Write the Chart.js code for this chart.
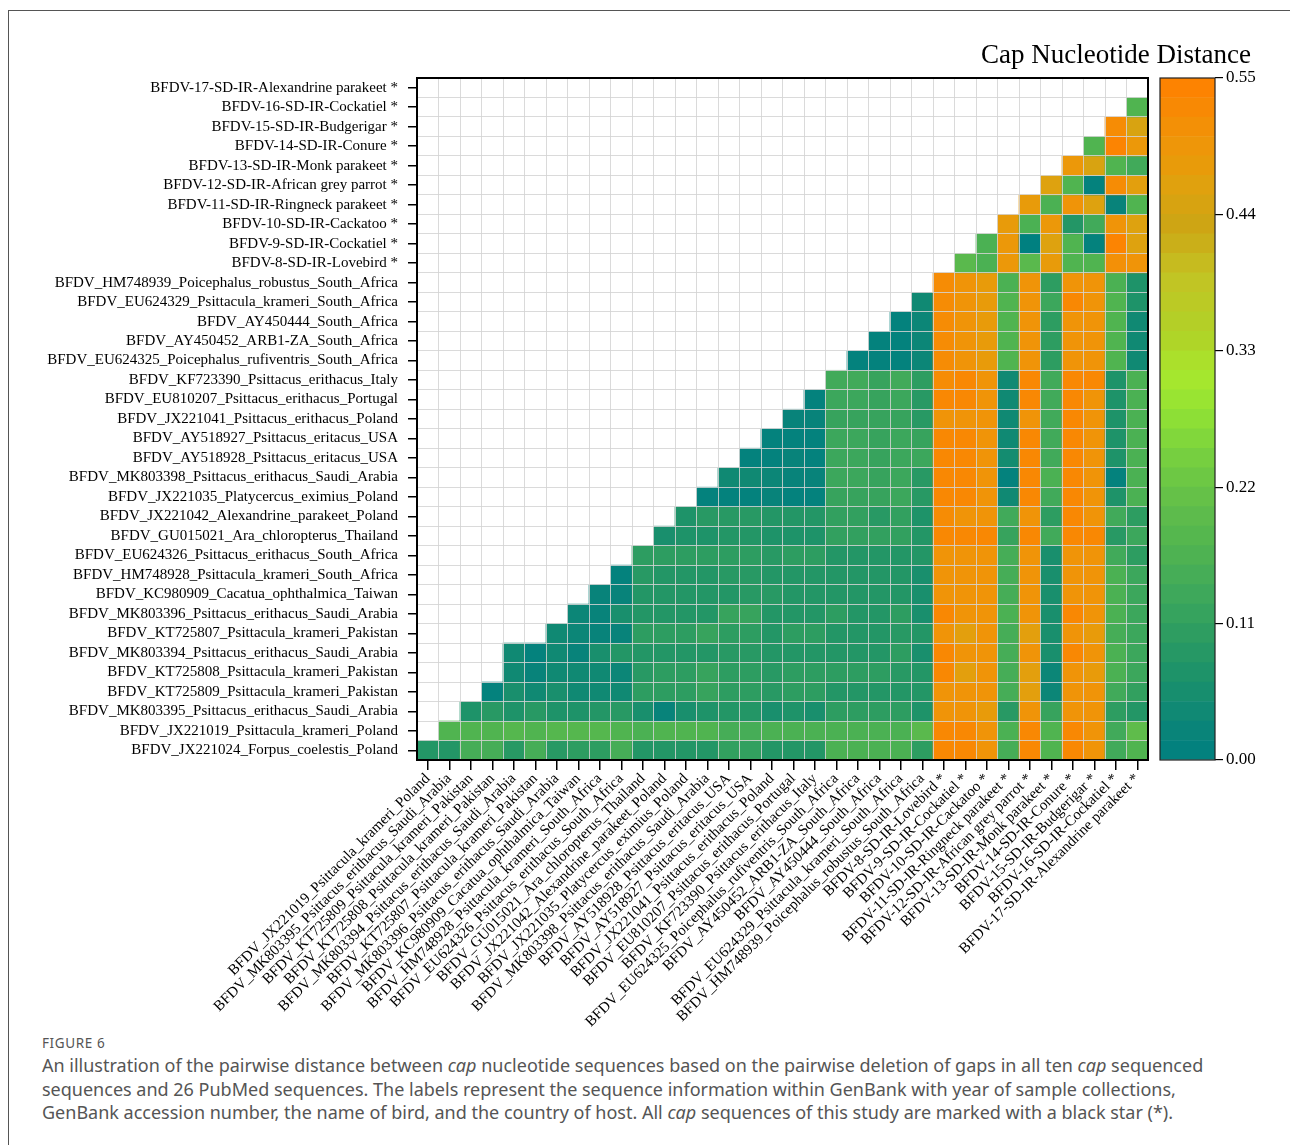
<!DOCTYPE html>
<html>
<head>
<meta charset="utf-8">
<script src="https://cdn.jsdelivr.net/npm/chart.js@4.4.1/dist/chart.umd.min.js"></script>
<style>
  body { margin: 0; background: #fff; width: 1290px; height: 1145px; position: relative; overflow: hidden; }
  #frame { position: absolute; left: 8px; top: 10px; width: 1290px; height: 1140px; border-top: 1.5px solid #555; border-left: 1.5px solid #555; }
  #main { position: absolute; left: 0; top: 0; width: 1290px; height: 1030px; }
  #bar { position: absolute; left: 960px; top: 0; width: 330px; height: 800px; }
  #cbtitle { position: absolute; right: 39px; top: 38px; font-family: 'Liberation Serif', 'Times New Roman', serif; font-size: 27px; line-height: 32px; color: #000; white-space: nowrap; }
  .cap { position: absolute; left: 42px; top: 1034px; font-family: 'Noto Sans', 'Open Sans', sans-serif; color: #555; }
  .cap .fig { font-size: 13.5px; letter-spacing: 0.6px; line-height: 18px; }
  .cap p { margin: 2px 0 0 0; font-size: 18px; line-height: 23.5px; white-space: nowrap; }
</style>
</head>
<body>
<div id="frame"></div>
<div id="main"><canvas id="heat"></canvas></div>
<div id="bar"><canvas id="scale"></canvas></div>
<div id="cbtitle">Cap Nucleotide Distance</div>
<div class="cap">
  <div class="fig">FIGURE 6</div>
  <p>An illustration of the pairwise distance between <i>cap</i> nucleotide sequences based on the pairwise deletion of gaps in all ten <i>cap</i> sequenced<br>sequences and 26 PubMed sequences. The labels represent the sequence information within GenBank with year of sample collections,<br>GenBank accession number, the name of bird, and the country of host. All <i>cap</i> sequences of this study are marked with a black star (*).</p>
</div>
<script>
// sequences, bottom row first (the columns are the same list without the first one)
const seqNames = [
  'BFDV_JX221024_Forpus_coelestis_Poland',
  'BFDV_JX221019_Psittacula_krameri_Poland',
  'BFDV_MK803395_Psittacus_erithacus_Saudi_Arabia',
  'BFDV_KT725809_Psittacula_krameri_Pakistan',
  'BFDV_KT725808_Psittacula_krameri_Pakistan',
  'BFDV_MK803394_Psittacus_erithacus_Saudi_Arabia',
  'BFDV_KT725807_Psittacula_krameri_Pakistan',
  'BFDV_MK803396_Psittacus_erithacus_Saudi_Arabia',
  'BFDV_KC980909_Cacatua_ophthalmica_Taiwan',
  'BFDV_HM748928_Psittacula_krameri_South_Africa',
  'BFDV_EU624326_Psittacus_erithacus_South_Africa',
  'BFDV_GU015021_Ara_chloropterus_Thailand',
  'BFDV_JX221042_Alexandrine_parakeet_Poland',
  'BFDV_JX221035_Platycercus_eximius_Poland',
  'BFDV_MK803398_Psittacus_erithacus_Saudi_Arabia',
  'BFDV_AY518928_Psittacus_eritacus_USA',
  'BFDV_AY518927_Psittacus_eritacus_USA',
  'BFDV_JX221041_Psittacus_erithacus_Poland',
  'BFDV_EU810207_Psittacus_erithacus_Portugal',
  'BFDV_KF723390_Psittacus_erithacus_Italy',
  'BFDV_EU624325_Poicephalus_rufiventris_South_Africa',
  'BFDV_AY450452_ARB1-ZA_South_Africa',
  'BFDV_AY450444_South_Africa',
  'BFDV_EU624329_Psittacula_krameri_South_Africa',
  'BFDV_HM748939_Poicephalus_robustus_South_Africa',
  'BFDV-8-SD-IR-Lovebird *',
  'BFDV-9-SD-IR-Cockatiel *',
  'BFDV-10-SD-IR-Cackatoo *',
  'BFDV-11-SD-IR-Ringneck parakeet *',
  'BFDV-12-SD-IR-African grey parrot *',
  'BFDV-13-SD-IR-Monk parakeet *',
  'BFDV-14-SD-IR-Conure *',
  'BFDV-15-SD-IR-Budgerigar *',
  'BFDV-16-SD-IR-Cockatiel *',
  'BFDV-17-SD-IR-Alexandrine parakeet *'
];
const colNames = seqNames.slice(1);

// distances, one row per sequence from the top row down; each row ends at the last column
const distRows = [
  [],
  [0.17],
  [0.52, 0.45],
  [0.17, 0.54, 0.49],
  [0.49, 0.45, 0.17, 0.14],
  [0.46, 0.17, 0.01, 0.52, 0.47],
  [0.48, 0.16, 0.50, 0.46, 0.02, 0.17],
  [0.48, 0.16, 0.49, 0.08, 0.14, 0.50, 0.46],
  [0.16, 0.49, 0.00, 0.46, 0.17, 0.01, 0.54, 0.46],
  [0.19, 0.16, 0.49, 0.19, 0.48, 0.17, 0.17, 0.51, 0.50],
  [0.52, 0.50, 0.48, 0.16, 0.50, 0.10, 0.50, 0.50, 0.16, 0.07],
  [0.04, 0.52, 0.50, 0.48, 0.17, 0.50, 0.13, 0.53, 0.50, 0.17, 0.07],
  [0.01, 0.03, 0.52, 0.50, 0.48, 0.17, 0.50, 0.10, 0.50, 0.50, 0.17, 0.04],
  [0.01, 0.01, 0.03, 0.52, 0.50, 0.48, 0.17, 0.50, 0.10, 0.50, 0.50, 0.17, 0.04],
  [0.01, 0.01, 0.01, 0.03, 0.52, 0.50, 0.48, 0.17, 0.50, 0.10, 0.50, 0.50, 0.17, 0.04],
  [0.14, 0.14, 0.12, 0.14, 0.10, 0.52, 0.53, 0.50, 0.04, 0.53, 0.14, 0.53, 0.53, 0.07, 0.16],
  [0.01, 0.13, 0.13, 0.12, 0.13, 0.09, 0.53, 0.53, 0.50, 0.04, 0.53, 0.14, 0.53, 0.50, 0.07, 0.16],
  [0.02, 0.02, 0.12, 0.12, 0.12, 0.12, 0.09, 0.50, 0.50, 0.50, 0.04, 0.50, 0.14, 0.53, 0.50, 0.07, 0.16],
  [0.01, 0.01, 0.01, 0.13, 0.13, 0.12, 0.13, 0.12, 0.53, 0.53, 0.50, 0.04, 0.53, 0.14, 0.53, 0.50, 0.07, 0.16],
  [0.01, 0.01, 0.02, 0.01, 0.13, 0.13, 0.12, 0.13, 0.13, 0.53, 0.53, 0.50, 0.05, 0.53, 0.14, 0.53, 0.50, 0.07, 0.16],
  [0.04, 0.04, 0.03, 0.02, 0.02, 0.13, 0.13, 0.12, 0.13, 0.09, 0.53, 0.53, 0.50, 0.01, 0.53, 0.16, 0.53, 0.50, 0.01, 0.16],
  [0.01, 0.01, 0.01, 0.02, 0.01, 0.01, 0.12, 0.12, 0.12, 0.13, 0.09, 0.53, 0.53, 0.50, 0.04, 0.53, 0.14, 0.53, 0.50, 0.07, 0.16],
  [0.07, 0.09, 0.09, 0.09, 0.08, 0.08, 0.08, 0.11, 0.11, 0.09, 0.11, 0.07, 0.52, 0.50, 0.50, 0.14, 0.50, 0.10, 0.53, 0.50, 0.14, 0.10],
  [0.06, 0.07, 0.07, 0.08, 0.08, 0.07, 0.07, 0.07, 0.11, 0.11, 0.11, 0.11, 0.08, 0.53, 0.53, 0.53, 0.12, 0.53, 0.14, 0.53, 0.53, 0.09, 0.13],
  [0.10, 0.10, 0.10, 0.10, 0.10, 0.10, 0.09, 0.10, 0.10, 0.08, 0.08, 0.08, 0.08, 0.08, 0.50, 0.50, 0.50, 0.15, 0.50, 0.06, 0.50, 0.50, 0.14, 0.10],
  [0.01, 0.09, 0.08, 0.08, 0.08, 0.09, 0.09, 0.08, 0.08, 0.08, 0.08, 0.08, 0.08, 0.08, 0.06, 0.50, 0.50, 0.50, 0.15, 0.50, 0.06, 0.50, 0.50, 0.16, 0.13],
  [0.02, 0.02, 0.08, 0.08, 0.08, 0.08, 0.08, 0.09, 0.09, 0.08, 0.08, 0.08, 0.08, 0.08, 0.08, 0.06, 0.50, 0.50, 0.50, 0.15, 0.50, 0.06, 0.50, 0.50, 0.16, 0.13],
  [0.03, 0.02, 0.06, 0.08, 0.08, 0.08, 0.08, 0.12, 0.12, 0.08, 0.08, 0.08, 0.10, 0.08, 0.08, 0.10, 0.06, 0.53, 0.50, 0.50, 0.16, 0.50, 0.06, 0.53, 0.50, 0.16, 0.13],
  [0.04, 0.03, 0.02, 0.02, 0.10, 0.10, 0.10, 0.12, 0.10, 0.10, 0.08, 0.10, 0.10, 0.08, 0.08, 0.08, 0.09, 0.08, 0.50, 0.47, 0.50, 0.15, 0.47, 0.06, 0.50, 0.48, 0.15, 0.13],
  [0.04, 0.01, 0.04, 0.02, 0.06, 0.08, 0.08, 0.08, 0.08, 0.08, 0.09, 0.09, 0.08, 0.08, 0.08, 0.08, 0.08, 0.08, 0.10, 0.06, 0.53, 0.50, 0.50, 0.15, 0.50, 0.06, 0.53, 0.50, 0.16, 0.13],
  [0.04, 0.02, 0.04, 0.04, 0.04, 0.03, 0.09, 0.10, 0.10, 0.12, 0.10, 0.10, 0.09, 0.10, 0.10, 0.10, 0.10, 0.10, 0.09, 0.08, 0.53, 0.47, 0.50, 0.15, 0.47, 0.03, 0.50, 0.48, 0.16, 0.13],
  [0.01, 0.06, 0.04, 0.06, 0.04, 0.04, 0.04, 0.10, 0.10, 0.10, 0.12, 0.10, 0.10, 0.09, 0.10, 0.10, 0.08, 0.08, 0.08, 0.08, 0.08, 0.50, 0.50, 0.50, 0.15, 0.47, 0.03, 0.50, 0.50, 0.14, 0.11],
  [0.07, 0.09, 0.07, 0.09, 0.07, 0.07, 0.08, 0.09, 0.06, 0.02, 0.06, 0.07, 0.08, 0.08, 0.06, 0.07, 0.06, 0.10, 0.10, 0.10, 0.10, 0.07, 0.50, 0.50, 0.48, 0.09, 0.50, 0.12, 0.50, 0.50, 0.10, 0.08],
  [0.17, 0.17, 0.17, 0.18, 0.17, 0.18, 0.18, 0.18, 0.17, 0.16, 0.17, 0.17, 0.17, 0.15, 0.15, 0.16, 0.16, 0.16, 0.16, 0.16, 0.16, 0.16, 0.19, 0.53, 0.53, 0.50, 0.16, 0.53, 0.17, 0.53, 0.50, 0.14, 0.20],
  [0.08, 0.08, 0.15, 0.15, 0.09, 0.15, 0.09, 0.10, 0.10, 0.15, 0.08, 0.08, 0.08, 0.08, 0.11, 0.11, 0.08, 0.08, 0.08, 0.16, 0.16, 0.16, 0.16, 0.10, 0.53, 0.53, 0.50, 0.15, 0.53, 0.17, 0.53, 0.50, 0.14, 0.17]
];

const scaleTicks = [0, 0.11, 0.22, 0.33, 0.44, 0.55];

// colour scale, teal -> green -> yellow green -> orange
const stops = [
  [0.00, [0, 128, 128]], [0.02, [8, 131, 122]], [0.05, [20, 140, 112]],
  [0.08, [35, 150, 102]], [0.11, [50, 160, 95]], [0.14, [65, 170, 90]],
  [0.17, [80, 180, 80]], [0.20, [95, 188, 75]], [0.24, [115, 205, 65]],
  [0.28, [145, 225, 52]], [0.31, [168, 232, 45]], [0.34, [175, 212, 40]],
  [0.39, [195, 195, 35]], [0.43, [205, 165, 20]], [0.46, [222, 162, 15]],
  [0.48, [232, 155, 10]], [0.50, [240, 148, 8]], [0.52, [246, 140, 5]],
  [0.55, [255, 128, 0]]
];
function colorFor(v) {
  if (v <= stops[0][0]) return 'rgb(' + stops[0][1].join(',') + ')';
  for (let i = 1; i < stops.length; i++) {
    if (v <= stops[i][0]) {
      const a = stops[i - 1], b = stops[i];
      const t = (v - a[0]) / (b[0] - a[0]);
      const c = a[1].map((x, j) => Math.round(x + (b[1][j] - x) * t));
      return 'rgb(' + c.join(',') + ')';
    }
  }
  return 'rgb(255,128,0)';
}

const serif = "'Liberation Serif', 'Times New Roman', serif";
const nRows = seqNames.length;
const nCols = colNames.length;

// one floating-bar dataset per row
const datasets = distRows.map((vals, t) => {
  const k = nRows - 1 - t;        // row index from the bottom
  const start = nCols - vals.length;
  const data = [], colors = [];
  for (let c = 0; c < nCols; c++) {
    if (c < start) { data.push(null); colors.push('transparent'); }
    else { data.push([k, k + 1]); colors.push(colorFor(vals[c - start])); }
  }
  return { data: data, backgroundColor: colors, borderWidth: 0, barPercentage: 1, categoryPercentage: 1, grouped: false };
});

const boxPlugin = {
  id: 'box',
  afterDraw(chart, args, opts) {
    const a = chart.chartArea, ctx = chart.ctx;
    ctx.save();
    ctx.strokeStyle = opts.color || '#000';
    ctx.lineWidth = opts.width || 2;
    ctx.strokeRect(a.left, a.top, a.right - a.left, a.bottom - a.top);
    ctx.restore();
  }
};

new Chart(document.getElementById('heat'), {
  type: 'bar',
  data: { labels: colNames, datasets: datasets },
  plugins: [boxPlugin],
  options: {
    responsive: true,
    maintainAspectRatio: false,
    animation: false,
    layout: { padding: { top: 78, left: 0, right: 142, bottom: 0 } },
    plugins: { legend: { display: false }, tooltip: { enabled: false }, box: { width: 2 } },
    scales: {
      x: {
        position: 'bottom',
        grid: { offset: false, drawOnChartArea: false, drawTicks: true, tickLength: 10, color: '#000', lineWidth: 1.5 },
        border: { display: false },
        ticks: { autoSkip: false, minRotation: 45, maxRotation: 45, color: '#000', padding: 0, font: { family: serif, size: 15 } },
        afterFit: (s) => { s.height = 270; }
      },
      x2: {
        position: 'top',
        type: 'category',
        labels: colNames,
        grid: { offset: true, drawOnChartArea: true, drawTicks: false, color: 'rgba(212,212,212,0.85)', lineWidth: 1, z: 1 },
        border: { display: false },
        ticks: { display: false },
        afterFit: (s) => { s.height = 0; }
      },
      y: {
        type: 'linear',
        min: 0,
        max: nRows,
        grid: { drawOnChartArea: false, drawTicks: true, tickLength: 9, color: '#000', lineWidth: 1.5 },
        border: { display: false },
        afterBuildTicks: (s) => { s.ticks = seqNames.map((n, k) => ({ value: k + 0.5 })); },
        ticks: { autoSkip: false, color: '#000', padding: 10, font: { family: serif, size: 15 },
          callback: (v, i) => seqNames[i] },
        afterFit: (s) => { s.width = 417; }
      },
      y2: {
        type: 'linear',
        position: 'right',
        min: 0,
        max: nRows,
        grid: { drawOnChartArea: true, drawTicks: false, color: 'rgba(212,212,212,0.85)', lineWidth: 1, z: 1 },
        border: { display: false },
        afterBuildTicks: (s) => { s.ticks = seqNames.concat(['']).map((n, k) => ({ value: k })); },
        ticks: { display: false },
        afterFit: (s) => { s.width = 0; }
      }
    }
  }
});

// colour bar: 35 stacked bands
const nBands = 35;
const bandSets = [];
for (let i = 0; i < nBands; i++) {
  const lo = 0.55 * i / nBands, hi = 0.55 * (i + 1) / nBands;
  bandSets.push({ data: [[lo, hi]], backgroundColor: colorFor((lo + hi) / 2), borderWidth: 0,
    barPercentage: 1, categoryPercentage: 1, grouped: false });
}

new Chart(document.getElementById('scale'), {
  type: 'bar',
  data: { labels: ['d'], datasets: bandSets },
  plugins: [boxPlugin],
  options: {
    responsive: true,
    maintainAspectRatio: false,
    animation: false,
    layout: { padding: { top: 78, left: 200, right: 25, bottom: 40 } },
    plugins: { legend: { display: false }, tooltip: { enabled: false }, box: { width: 1.2, color: '#222' } },
    scales: {
      x: { display: false },
      y: {
        position: 'right',
        min: 0,
        max: 0.55,
        grid: { drawOnChartArea: false, drawTicks: true, tickLength: 8, color: '#000', lineWidth: 1.2 },
        border: { display: false },
        afterBuildTicks: (s) => { s.ticks = scaleTicks.map(v => ({ value: v })); },
        ticks: { color: '#000', padding: 3, font: { family: serif, size: 17 }, callback: (v) => v.toFixed(2) },
        afterFit: (s) => { s.width = 50; }
      }
    }
  }
});
</script>
</body>
</html>
